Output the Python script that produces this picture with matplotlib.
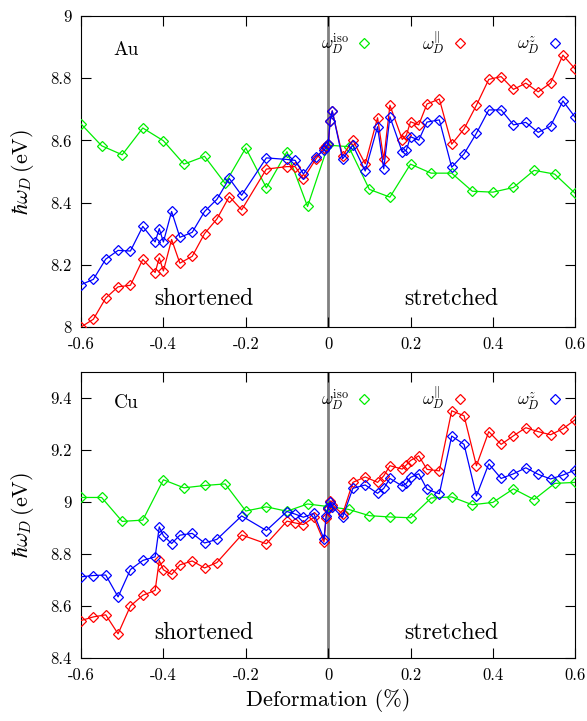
import matplotlib
matplotlib.use("Agg")
import matplotlib.pyplot as plt
from matplotlib.lines import Line2D
from matplotlib.ticker import FuncFormatter, MultipleLocator

plt.rcParams['font.family'] = 'cmr10'
plt.rcParams['mathtext.fontset'] = 'cm'
plt.rcParams['axes.unicode_minus'] = False

# isotropic values, sampled every 0.05 %
iso_x = [-0.6, -0.55, -0.5, -0.45, -0.4, -0.35, -0.3, -0.25, -0.2, -0.15, -0.1, -0.05, 0.0,
         0.05, 0.1, 0.15, 0.2, 0.25, 0.3, 0.35, 0.4, 0.45, 0.5, 0.55, 0.6]
au_iso = [8.653, 8.583, 8.554, 8.640, 8.599, 8.524, 8.549, 8.462, 8.576, 8.448, 8.564, 8.388, 8.585,
          8.580, 8.443, 8.418, 8.524, 8.495, 8.495, 8.437, 8.434, 8.449, 8.504, 8.492, 8.430]
cu_iso = [9.018, 9.018, 8.926, 8.931, 9.086, 9.055, 9.064, 9.070, 8.966, 8.982, 8.965, 8.993, 8.983,
          8.972, 8.948, 8.943, 8.940, 9.016, 9.020, 8.990, 8.999, 9.051, 9.010, 9.072, 9.076]

# parallel / z values
au_x = [-0.6, -0.57, -0.54, -0.51, -0.48, -0.45, -0.42, -0.41, -0.40, -0.38,
        -0.36, -0.33, -0.30, -0.27, -0.24, -0.21, -0.15, -0.10, -0.08, -0.06,
        -0.03, -0.01, -0.005, 0.0, 0.005, 0.01, 0.035, 0.06, 0.09, 0.12,
        0.135, 0.15, 0.18, 0.19, 0.20, 0.22, 0.24, 0.27, 0.30, 0.33,
        0.36, 0.39, 0.42, 0.45, 0.48, 0.51, 0.54, 0.57, 0.60]
au_par = [8.001, 8.026, 8.094, 8.130, 8.135, 8.218, 8.176, 8.223, 8.181, 8.282,
          8.206, 8.228, 8.301, 8.348, 8.420, 8.377, 8.508, 8.516, 8.516, 8.477,
          8.540, 8.577, 8.582, 8.588, 8.663, 8.695, 8.550, 8.601, 8.525, 8.673,
          8.539, 8.713, 8.603, 8.617, 8.660, 8.650, 8.717, 8.733, 8.588, 8.637,
          8.713, 8.796, 8.805, 8.764, 8.784, 8.756, 8.784, 8.874, 8.829]
au_z = [8.137, 8.154, 8.219, 8.247, 8.245, 8.324, 8.274, 8.317, 8.274, 8.372,
        8.289, 8.305, 8.372, 8.411, 8.478, 8.424, 8.544, 8.539, 8.536, 8.492,
        8.548, 8.568, 8.578, 8.588, 8.663, 8.695, 8.541, 8.585, 8.502, 8.644,
        8.509, 8.676, 8.563, 8.569, 8.612, 8.601, 8.659, 8.666, 8.514, 8.557,
        8.623, 8.698, 8.698, 8.650, 8.658, 8.626, 8.646, 8.727, 8.674]

cu_x = [-0.6, -0.57, -0.54, -0.51, -0.48, -0.45, -0.42, -0.41, -0.40, -0.38,
        -0.36, -0.33, -0.30, -0.27, -0.21, -0.15, -0.10, -0.08, -0.06, -0.035,
        -0.01, -0.005, 0.0, 0.005, 0.01, 0.035, 0.06, 0.09, 0.12, 0.135,
        0.15, 0.18, 0.19, 0.20, 0.22, 0.24, 0.27, 0.30, 0.33, 0.36,
        0.39, 0.42, 0.45, 0.48, 0.51, 0.54, 0.57, 0.60]
cu_par = [8.545, 8.559, 8.567, 8.494, 8.601, 8.642, 8.661, 8.776, 8.740, 8.722,
          8.759, 8.774, 8.747, 8.768, 8.874, 8.840, 8.927, 8.920, 8.914, 8.941,
          8.847, 8.940, 8.975, 9.005, 8.990, 8.954, 9.076, 9.097, 9.076, 9.101,
          9.140, 9.127, 9.143, 9.160, 9.178, 9.126, 9.120, 9.351, 9.332, 9.140,
          9.271, 9.222, 9.255, 9.286, 9.271, 9.259, 9.282, 9.317]
cu_z = [8.713, 8.718, 8.720, 8.636, 8.741, 8.776, 8.790, 8.905, 8.871, 8.841,
        8.873, 8.880, 8.843, 8.857, 8.947, 8.891, 8.964, 8.954, 8.942, 8.957,
        8.858, 8.946, 8.976, 9.001, 8.983, 8.941, 9.053, 9.066, 9.034, 9.053,
        9.091, 9.062, 9.072, 9.095, 9.109, 9.050, 9.032, 9.254, 9.222, 9.024,
        9.147, 9.091, 9.109, 9.132, 9.107, 9.089, 9.104, 9.124]

labels = [r'$\omega_D^{\rm iso}$', r'$\omega_D^{\Vert}$', r'$\omega_D^{z}$']
colors = ['#00ee00', '#ff0000', '#0000ff']

fig = plt.figure(figsize=(5.87, 7.21), dpi=100)
ax1 = fig.add_axes([0.138, 0.546, 0.842, 0.432])
ax2 = fig.add_axes([0.138, 0.087, 0.842, 0.397])


def panel(ax, name, iso, px, par, z, ylim, yticks):
    ax.axvline(0, color='#808080', lw=2, zorder=1)
    for xs, ys, c in [(iso_x, iso, colors[0]), (px, par, colors[1]), (px, z, colors[2])]:
        ax.plot(xs, ys, color=c, lw=0.9, marker='D', ms=5, mfc='none', mew=0.9, zorder=3)
    ax.set_xlim(-0.6, 0.6)
    ax.set_ylim(*ylim)
    ax.xaxis.set_major_locator(MultipleLocator(0.2))
    ax.set_yticks(yticks)
    fmt = FuncFormatter(lambda v, p: '%g' % round(v, 3))
    ax.xaxis.set_major_formatter(fmt)
    ax.yaxis.set_major_formatter(fmt)
    ax.tick_params(direction='in', length=7, top=True, right=True, labelsize=12, pad=7)
    ax.set_ylabel(r'$\hbar\omega_D\,$(eV)', fontsize=16, labelpad=10)
    ax.text(0.091, 0.89, name, transform=ax.transAxes, fontsize=14, ha='center', va='center')
    ax.text(0.249, 0.09, 'shortened', transform=ax.transAxes, fontsize=17, ha='center', va='center')
    ax.text(0.749, 0.09, 'stretched', transform=ax.transAxes, fontsize=17, ha='center', va='center')
    handles = [Line2D([], [], color=c, marker='D', ls='none', ms=5, mfc='none', mew=0.9) for c in colors]
    ax.legend(handles, labels, loc='upper right', ncol=3, frameon=False, markerfirst=False,
              numpoints=1, fontsize=12.5, columnspacing=2.8, handletextpad=0.4, handlelength=1.0,
              borderaxespad=0.1, bbox_to_anchor=(0.995, 0.985))


panel(ax1, 'Au', au_iso, au_x, au_par, au_z, (8, 9), [8, 8.2, 8.4, 8.6, 8.8, 9])
panel(ax2, 'Cu', cu_iso, cu_x, cu_par, cu_z, (8.4, 9.5), [8.4, 8.6, 8.8, 9, 9.2, 9.4])
ax2.set_xlabel('Deformation (%)', fontsize=16, labelpad=4)

fig.savefig('out.png')
